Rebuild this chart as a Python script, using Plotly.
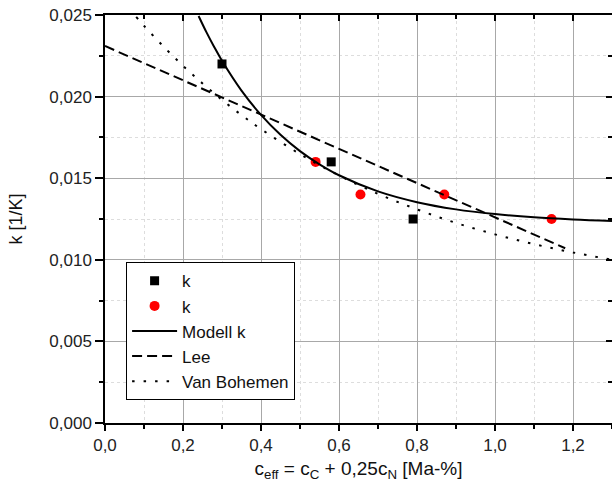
import plotly.graph_objects as go

# Measured data
sq_x = [0.30, 0.58, 0.79]
sq_y = [0.0220, 0.0160, 0.0125]
ci_x = [0.54, 0.655, 0.87, 1.145]
ci_y = [0.0160, 0.0140, 0.0140, 0.0125]

# Model curve
mod_x = [0.24, 0.26, 0.28, 0.30, 0.35, 0.40, 0.45, 0.50, 0.55, 0.60, 0.70, 0.80, 0.90, 1.00, 1.10, 1.20, 1.30]
mod_y = [0.02494, 0.02395, 0.02304, 0.02220, 0.02037, 0.01888, 0.01766, 0.01666, 0.01585, 0.01518,
         0.01419, 0.01353, 0.01309, 0.01280, 0.01260, 0.01247, 0.01238]

# Lee (straight line)
lee_x = [0.0, 1.18]
lee_y = [0.0231, 0.01071]

# Van Bohemen
vb_x = [0.08, 0.10, 0.15, 0.20, 0.25, 0.30, 0.35, 0.40, 0.50, 0.60, 0.70, 0.80, 0.90, 1.00, 1.10, 1.20, 1.30]
vb_y = [0.02488, 0.02434, 0.02307, 0.02189, 0.02081, 0.01980, 0.01887, 0.01801, 0.01648, 0.01517,
        0.01404, 0.01309, 0.01226, 0.01156, 0.01096, 0.01045, 0.01001]

FONT = "Liberation Sans, Arial, sans-serif"

fig = go.Figure()
fig.add_trace(go.Scatter(x=sq_x, y=sq_y, mode="markers", name="k",
                         marker=dict(symbol="square", size=9, color="black")))
fig.add_trace(go.Scatter(x=ci_x, y=ci_y, mode="markers", name="k",
                         marker=dict(symbol="circle", size=10, color="red")))
fig.add_trace(go.Scatter(x=mod_x, y=mod_y, mode="lines", name="Modell k",
                         line=dict(color="black", width=2, shape="spline")))
fig.add_trace(go.Scatter(x=lee_x, y=lee_y, mode="lines", name="Lee",
                         line=dict(color="black", width=2, dash="10px,5px")))
fig.add_trace(go.Scatter(x=vb_x, y=vb_y, mode="lines", name="Van Bohemen",
                         line=dict(color="black", width=2, dash="2.5px,9px", shape="spline")))
# helper trace for mirrored axes
fig.add_trace(go.Scatter(x=[0], y=[0], xaxis="x2", yaxis="y2", mode="markers",
                         marker=dict(opacity=0), showlegend=False, hoverinfo="skip"))

axis_common = dict(showline=True, linecolor="black", linewidth=1.5,
                   tickfont=dict(family=FONT, size=17, color="#222"))

fig.update_layout(
    width=612, height=492,
    margin=dict(l=105, r=0, t=15, b=69),
    paper_bgcolor="white", plot_bgcolor="white",
    separators=",.",
    font=dict(family=FONT, color="#222"),
    showlegend=True,
    legend=dict(x=0.0416, y=0.394, xanchor="left", yanchor="top",
                bordercolor="black", borderwidth=1, bgcolor="white",
                font=dict(family=FONT, size=17, color="#111"),
                itemwidth=45, tracegroupgap=0),
    xaxis=dict(range=[0, 1.3], dtick=0.2, tick0=0, tickformat=".1f",
               ticks="outside", ticklen=6, tickwidth=1.5, tickcolor="black",
               showgrid=True, gridcolor="#a8a8a8", gridwidth=1,
               minor=dict(dtick=0.1, ticks="outside", ticklen=4, tickcolor="black",
                          showgrid=True, gridcolor="#dddddd", griddash="dot"),
               zeroline=False,
               title=dict(text="c<sub>eff</sub> = c<sub>C</sub> + 0,25c<sub>N</sub> [Ma-%]",
                          font=dict(family=FONT, size=19, color="#111"), standoff=8),
               **axis_common),
    yaxis=dict(range=[0, 0.025], dtick=0.005, tick0=0, tickformat=".3f",
               ticks="outside", ticklen=8, tickwidth=1.5, tickcolor="black",
               showgrid=True, gridcolor="#a8a8a8", gridwidth=1,
               minor=dict(dtick=0.0025, ticks="outside", ticklen=4, tickcolor="black",
                          showgrid=True, gridcolor="#dddddd", griddash="dot"),
               zeroline=False,
               title=dict(text="k [1/K]", font=dict(family=FONT, size=18, color="#111"), standoff=22),
               **axis_common),
    xaxis2=dict(range=[0, 1.3], dtick=0.2, tick0=0, overlaying="x", side="top", anchor="y",
                showticklabels=False, ticks="inside", ticklen=6, tickwidth=1.5, tickcolor="black",
                minor=dict(dtick=0.1, ticks="inside", ticklen=4, tickcolor="black"),
                showgrid=False, zeroline=False, showline=True, linecolor="black", linewidth=1.5),
    yaxis2=dict(range=[0, 0.025], dtick=0.005, tick0=0, overlaying="y", side="right", anchor="x",
                showticklabels=False, ticks="inside", ticklen=6, tickwidth=1.5, tickcolor="black",
                minor=dict(dtick=0.0025, ticks="inside", ticklen=4, tickcolor="black"),
                showgrid=False, zeroline=False, showline=True, linecolor="black", linewidth=1.5),
)

fig.write_html("out.html")
